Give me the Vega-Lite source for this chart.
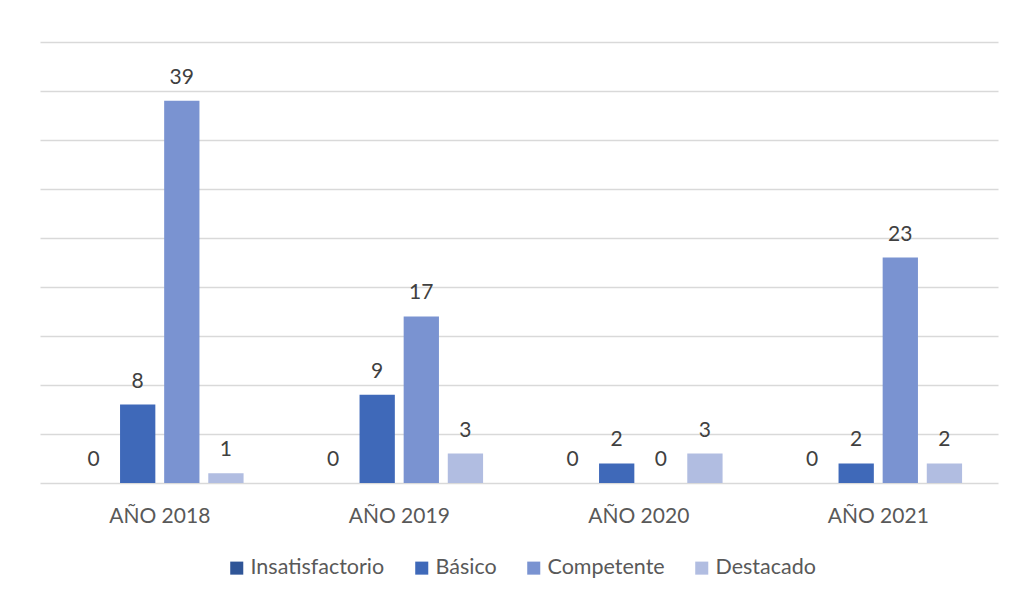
{
  "$schema": "https://vega.github.io/schema/vega-lite/v6.json",
  "width": 958,
  "height": 441,
  "padding": {"left": 40, "top": 42, "right": 15, "bottom": 0},
  "background": "white",
  "config": {
    "font": "Lato",
    "view": {"stroke": null},
    "axis": {"labelFont": "Lato", "titleFont": "Lato"},
    "legend": {"labelFont": "Lato"}
  },
  "data": {
    "values": [
      {"anio": "AÑO 2018", "nivel": "Insatisfactorio", "valor": 0},
      {"anio": "AÑO 2018", "nivel": "Básico", "valor": 8},
      {"anio": "AÑO 2018", "nivel": "Competente", "valor": 39},
      {"anio": "AÑO 2018", "nivel": "Destacado", "valor": 1},
      {"anio": "AÑO 2019", "nivel": "Insatisfactorio", "valor": 0},
      {"anio": "AÑO 2019", "nivel": "Básico", "valor": 9},
      {"anio": "AÑO 2019", "nivel": "Competente", "valor": 17},
      {"anio": "AÑO 2019", "nivel": "Destacado", "valor": 3},
      {"anio": "AÑO 2020", "nivel": "Insatisfactorio", "valor": 0},
      {"anio": "AÑO 2020", "nivel": "Básico", "valor": 2},
      {"anio": "AÑO 2020", "nivel": "Competente", "valor": 0},
      {"anio": "AÑO 2020", "nivel": "Destacado", "valor": 3},
      {"anio": "AÑO 2021", "nivel": "Insatisfactorio", "valor": 0},
      {"anio": "AÑO 2021", "nivel": "Básico", "valor": 2},
      {"anio": "AÑO 2021", "nivel": "Competente", "valor": 23},
      {"anio": "AÑO 2021", "nivel": "Destacado", "valor": 2}
    ]
  },
  "encoding": {
    "x": {
      "field": "anio", "type": "nominal", "title": null,
      "scale": {"paddingInner": 0.3, "paddingOuter": 0.15},
      "axis": {"labelAngle": 0, "domain": false, "ticks": false, "labelPadding": 22, "labelFontSize": 21, "labelColor": "#595959"}
    },
    "xOffset": {
      "field": "nivel", "type": "nominal",
      "scale": {"domain": ["Insatisfactorio", "Básico", "Competente", "Destacado"], "paddingInner": 0.2, "paddingOuter": 0}
    },
    "y": {
      "field": "valor", "type": "quantitative", "title": null,
      "scale": {"domain": [0, 45], "nice": false},
      "axis": {"labels": false, "ticks": false, "domain": false, "grid": true, "gridColor": "#D9D9D9", "gridWidth": 1.3, "values": [0, 5, 10, 15, 20, 25, 30, 35, 40, 45]}
    }
  },
  "layer": [
    {
      "mark": {"type": "bar"},
      "encoding": {
        "color": {
          "field": "nivel", "type": "nominal", "title": null,
          "scale": {"domain": ["Insatisfactorio", "Básico", "Competente", "Destacado"], "range": ["#2F5597", "#3F69B9", "#7A93D1", "#B1BDE1"]},
          "legend": {"orient": "none", "legendX": 186, "legendY": 515, "direction": "horizontal", "symbolType": "square", "symbolSize": 170, "symbolStrokeWidth": 0, "labelFontSize": 21.5, "labelColor": "#595959", "columnPadding": 26, "labelOffset": 3, "padding": 0}
        }
      }
    },
    {
      "mark": {"type": "text", "baseline": "alphabetic", "dy": -17, "fontSize": 21, "color": "#404040"},
      "encoding": {"text": {"field": "valor", "type": "quantitative"}}
    }
  ]
}
